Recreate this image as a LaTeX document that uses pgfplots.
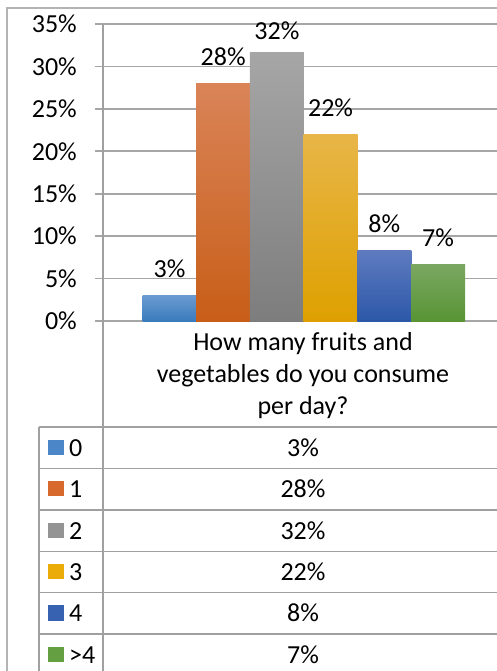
\documentclass[border=0pt]{standalone}
\usepackage{pgfplots}
\pgfplotsset{compat=1.18}
\usepackage{fontspec}
\setmainfont{Carlito}
\definecolor{gridc}{RGB}{166,166,166}
\definecolor{linec}{RGB}{160,160,160}
\definecolor{borderc}{RGB}{180,180,180}
\definecolor{cat}{RGB}{108,155,210}\definecolor{cab}{RGB}{58,123,188}\definecolor{cal}{RGB}{75,135,200}
\definecolor{cbt}{RGB}{218,132,88}\definecolor{cbb}{RGB}{200,94,24}\definecolor{cbl}{RGB}{215,105,45}
\definecolor{cct}{RGB}{166,166,166}\definecolor{ccb}{RGB}{125,125,125}\definecolor{ccl}{RGB}{148,148,148}
\definecolor{cdt}{RGB}{232,182,72}\definecolor{cdb}{RGB}{222,160,0}\definecolor{cdl}{RGB}{235,172,10}
\definecolor{cet}{RGB}{95,123,192}\definecolor{ceb}{RGB}{44,88,168}\definecolor{cel}{RGB}{55,98,178}
\definecolor{cft}{RGB}{122,167,97}\definecolor{cfb}{RGB}{88,148,52}\definecolor{cfl}{RGB}{100,160,65}
\newcommand{\bigf}{\fontsize{26bp}{32bp}\selectfont}
\begin{document}
\begin{tikzpicture}
\useasboundingbox (0,0) rectangle (497bp,-671bp);
\begin{axis}[
  at={(103bp,-321bp)}, anchor=south west,
  scale only axis, width=394bp, height=297bp,
  xmin=0, xmax=394, ymin=0, ymax=35,
  axis line style={draw=none},
  ymajorgrids, grid style={gridc, line width=1.6bp},
  ytick={0,5,...,35},
  yticklabels={0\%,5\%,10\%,15\%,20\%,25\%,30\%,35\%},
  xtick=\empty,
  tick align=outside, major tick length=8bp,
  ytick style={gridc, line width=1.6bp},
  tick label style={font=\bigf},
  yticklabel style={inner sep=0pt, anchor=east, xshift=-18bp},
  ybar, bar width=54,
  nodes near coords, point meta=explicit symbolic,
  every node near coord/.append style={font=\bigf, text=black, inner sep=0pt, anchor=base, yshift=18bp},
  clip=false,
]
\addplot[bar shift=0pt, draw=none, top color=cat, bottom color=cab] coordinates {(66.5,3.06) [3\%]};
\addplot[bar shift=0pt, draw=none, top color=cbt, bottom color=cbb] coordinates {(120.2,28.0) [28\%]};
\addplot[bar shift=0pt, draw=none, top color=cct, bottom color=ccb, every node near coord/.append style={yshift=-5bp}] coordinates {(173.9,31.7) [32\%]};
\addplot[bar shift=0pt, draw=none, top color=cdt, bottom color=cdb] coordinates {(227.6,22.0) [22\%]};
\addplot[bar shift=0pt, draw=none, top color=cet, bottom color=ceb] coordinates {(281.3,8.36) [8\%]};
\addplot[bar shift=0pt, draw=none, top color=cft, bottom color=cfb] coordinates {(335.0,6.7) [7\%]};
\end{axis}
\begin{scope}[x=1bp,y=-1bp]
  \draw[borderc, line width=1.6bp] (7,671) -- (7,8) -- (497,8);
  \draw[linec, line width=1.8bp] (103,24) -- (103,671);
  \foreach \yy in {427,468.3,510,551.3,592.7,634} {
    \draw[linec, line width=1.4bp] (39,\yy) -- (497,\yy);
  }
  \draw[linec, line width=1.4bp] (39,427) -- (39,671);
  \node[anchor=base, font=\bigf, inner sep=0pt] at (303,350.5) {How many fruits and};
  \node[anchor=base, font=\bigf, inner sep=0pt] at (303,382) {vegetables do you consume};
  \node[anchor=base, font=\bigf, inner sep=0pt] at (303,414) {per day?};
  \foreach \rt/\lab/\val/\col in {427/0/3\%/cal, 468.3/1/28\%/cbl, 510/2/32\%/ccl, 551.3/3/22\%/cdl, 592.7/4/8\%/cel, 634/{>4}/7\%/cfl} {
    \fill[\col] (48,\rt+12.5) rectangle (63.5,\rt+28);
    \node[anchor=base west, font=\bigf, inner sep=0pt] at (69,\rt+29) {\lab};
    \node[anchor=base, font=\bigf, inner sep=0pt] at (303,\rt+29) {\val};
  }
\end{scope}
\end{tikzpicture}
\end{document}
